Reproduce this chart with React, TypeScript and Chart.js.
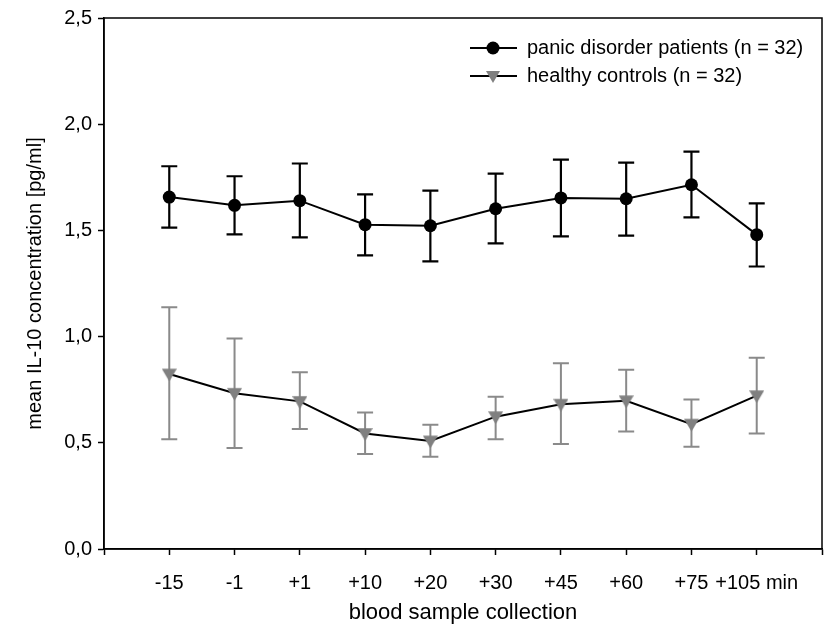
import React, { useEffect, useRef } from "react";
import { Chart, registerables } from "chart.js";

Chart.register(...registerables);

const categories = ["-15", "-1", "+1", "+10", "+20", "+30", "+45", "+60", "+75", "+105 min"];
const patientsMean = [1.657, 1.618, 1.64, 1.527, 1.522, 1.602, 1.653, 1.649, 1.715, 1.48];
const patientsUpper = [1.802, 1.755, 1.815, 1.67, 1.687, 1.767, 1.833, 1.819, 1.871, 1.627];
const patientsLower = [1.513, 1.481, 1.467, 1.382, 1.354, 1.439, 1.472, 1.475, 1.561, 1.33];
const controlsMean = [0.824, 0.733, 0.695, 0.544, 0.509, 0.623, 0.682, 0.698, 0.588, 0.722];
const controlsUpper = [1.138, 0.991, 0.832, 0.643, 0.585, 0.717, 0.874, 0.844, 0.704, 0.901];
const controlsLower = [0.517, 0.475, 0.565, 0.447, 0.434, 0.517, 0.494, 0.553, 0.481, 0.544];
const yTicks = [0, 0.5, 1.0, 1.5, 2.0, 2.5];
const legendLabels = ["panic disorder patients (n = 32)", "healthy controls (n = 32)"];

const FONT = "'Liberation Sans', Arial, sans-serif";

const errorBarsPlugin = {
  id: "errorBars",
  beforeDatasetsDraw(chart: any) {
    const ctx = chart.ctx;
    const xs = chart.scales.x;
    const ys = chart.scales.y;
    const sets = [
      { up: controlsUpper, lo: controlsLower, color: "#8a8a8a", w: 2 },
      { up: patientsUpper, lo: patientsLower, color: "#000000", w: 2.2 },
    ];
    ctx.save();
    sets.forEach((s) => {
      ctx.strokeStyle = s.color;
      ctx.lineWidth = s.w;
      s.up.forEach((u, i) => {
        const x = xs.getPixelForValue(i);
        const yu = ys.getPixelForValue(u);
        const yl = ys.getPixelForValue(s.lo[i]);
        ctx.beginPath();
        ctx.moveTo(x, yu);
        ctx.lineTo(x, yl);
        ctx.moveTo(x - 8, yu);
        ctx.lineTo(x + 8, yu);
        ctx.moveTo(x - 8, yl);
        ctx.lineTo(x + 8, yl);
        ctx.stroke();
      });
    });
    ctx.restore();
  },
};

const framePlugin = {
  id: "frame",
  afterDraw(chart: any) {
    const { ctx, chartArea } = chart;
    ctx.save();
    ctx.strokeStyle = "#000";
    ctx.lineWidth = 1.5;
    ctx.strokeRect(chartArea.left, chartArea.top, chartArea.right - chartArea.left, chartArea.bottom - chartArea.top);
    ctx.restore();
  },
};

const legendPlugin = {
  id: "customLegend",
  afterDraw(chart: any) {
    const ctx = chart.ctx;
    const rows = [
      { y: 48, label: legendLabels[0], style: "circle", color: "#000" },
      { y: 76, label: legendLabels[1], style: "triangle", color: "#808080" },
    ];
    ctx.save();
    rows.forEach((r) => {
      ctx.strokeStyle = "#000";
      ctx.lineWidth = 2;
      ctx.beginPath();
      ctx.moveTo(470, r.y);
      ctx.lineTo(517, r.y);
      ctx.stroke();
      ctx.fillStyle = r.color;
      ctx.beginPath();
      if (r.style === "circle") {
        ctx.arc(493, r.y, 6.5, 0, Math.PI * 2);
      } else {
        ctx.moveTo(486, r.y - 5);
        ctx.lineTo(500, r.y - 5);
        ctx.lineTo(493, r.y + 7);
        ctx.closePath();
      }
      ctx.fill();
      ctx.fillStyle = "#000";
      ctx.font = `20px ${FONT}`;
      ctx.textBaseline = "middle";
      ctx.textAlign = "left";
      ctx.fillText(r.label, 527, r.y);
    });
    ctx.restore();
  },
};

function makeDownTriangle(size: number, color: string) {
  const c = document.createElement("canvas");
  c.width = size;
  c.height = size;
  const g = c.getContext("2d")!;
  g.fillStyle = color;
  g.beginPath();
  g.moveTo(0, size * 0.15);
  g.lineTo(size, size * 0.15);
  g.lineTo(size / 2, size);
  g.closePath();
  g.fill();
  return c;
}

export default function App() {
  const ref = useRef<HTMLCanvasElement>(null);
  useEffect(() => {
    document.body.style.margin = "0";
    const tri = makeDownTriangle(15, "#808080");
    const chart = new Chart(ref.current!, {
      type: "line",
      data: {
        datasets: [
          {
            label: legendLabels[0],
            data: patientsMean.map((v, i) => ({ x: i, y: v })),
            borderColor: "#000",
            borderWidth: 2,
            pointBackgroundColor: "#000",
            pointBorderColor: "#000",
            pointRadius: 6.5,
            pointBorderWidth: 0,
          },
          {
            label: legendLabels[1],
            data: controlsMean.map((v, i) => ({ x: i, y: v })),
            borderColor: "#000",
            borderWidth: 2,
            pointStyle: tri as any,
            pointRadius: 7,
          },
        ],
      },
      options: {
        animation: false,
        responsive: false,
        layout: { autoPadding: false, padding: { top: 18, right: 3, left: 0, bottom: 0 } },
        plugins: { legend: { display: false }, tooltip: { enabled: false } },
        scales: {
          x: {
            type: "linear",
            min: -1,
            max: 10,
            afterFit: (s: any) => {
              s.height = 81;
              s.paddingLeft = 0;
              s.paddingRight = 0;
            },
            afterBuildTicks: (s: any) => {
              s.ticks = [];
              for (let i = -1; i <= 10; i++) s.ticks.push({ value: i });
            },
            grid: { drawOnChartArea: false, drawTicks: true, tickLength: 6, tickColor: "#000", tickWidth: 1.5 },
            border: { color: "#000", width: 1.5 },
            ticks: {
              autoSkip: false,
              maxRotation: 0,
              padding: 16,
              color: "#000",
              font: { family: FONT, size: 20 },
              callback: (v: any) => categories[v as number] ?? "",
            },
            title: {
              display: true,
              text: "blood sample collection",
              color: "#000",
              font: { family: FONT, size: 22 },
              padding: { top: 0, bottom: 4 },
            },
          },
          y: {
            min: 0,
            max: 2.5,
            afterFit: (s: any) => {
              s.width = 104;
              s.paddingTop = 0;
              s.paddingBottom = 0;
            },
            afterBuildTicks: (s: any) => {
              s.ticks = yTicks.map((v) => ({ value: v }));
            },
            grid: { drawOnChartArea: false, drawTicks: true, tickLength: 6, tickColor: "#000", tickWidth: 1.5 },
            border: { color: "#000", width: 1.5 },
            ticks: {
              padding: 6,
              color: "#000",
              font: { family: FONT, size: 20 },
              callback: (v: any) => Number(v).toFixed(1).replace(".", ","),
            },
            title: {
              display: true,
              text: "mean IL-10 concentration [pg/ml]",
              color: "#000",
              font: { family: FONT, size: 20 },
              padding: { top: 23, bottom: 0 },
            },
          },
        },
      },
      plugins: [errorBarsPlugin, framePlugin, legendPlugin],
    });
    return () => chart.destroy();
  }, []);
  return <canvas ref={ref} width={825} height={630} style={{ display: "block" }} />;
}
